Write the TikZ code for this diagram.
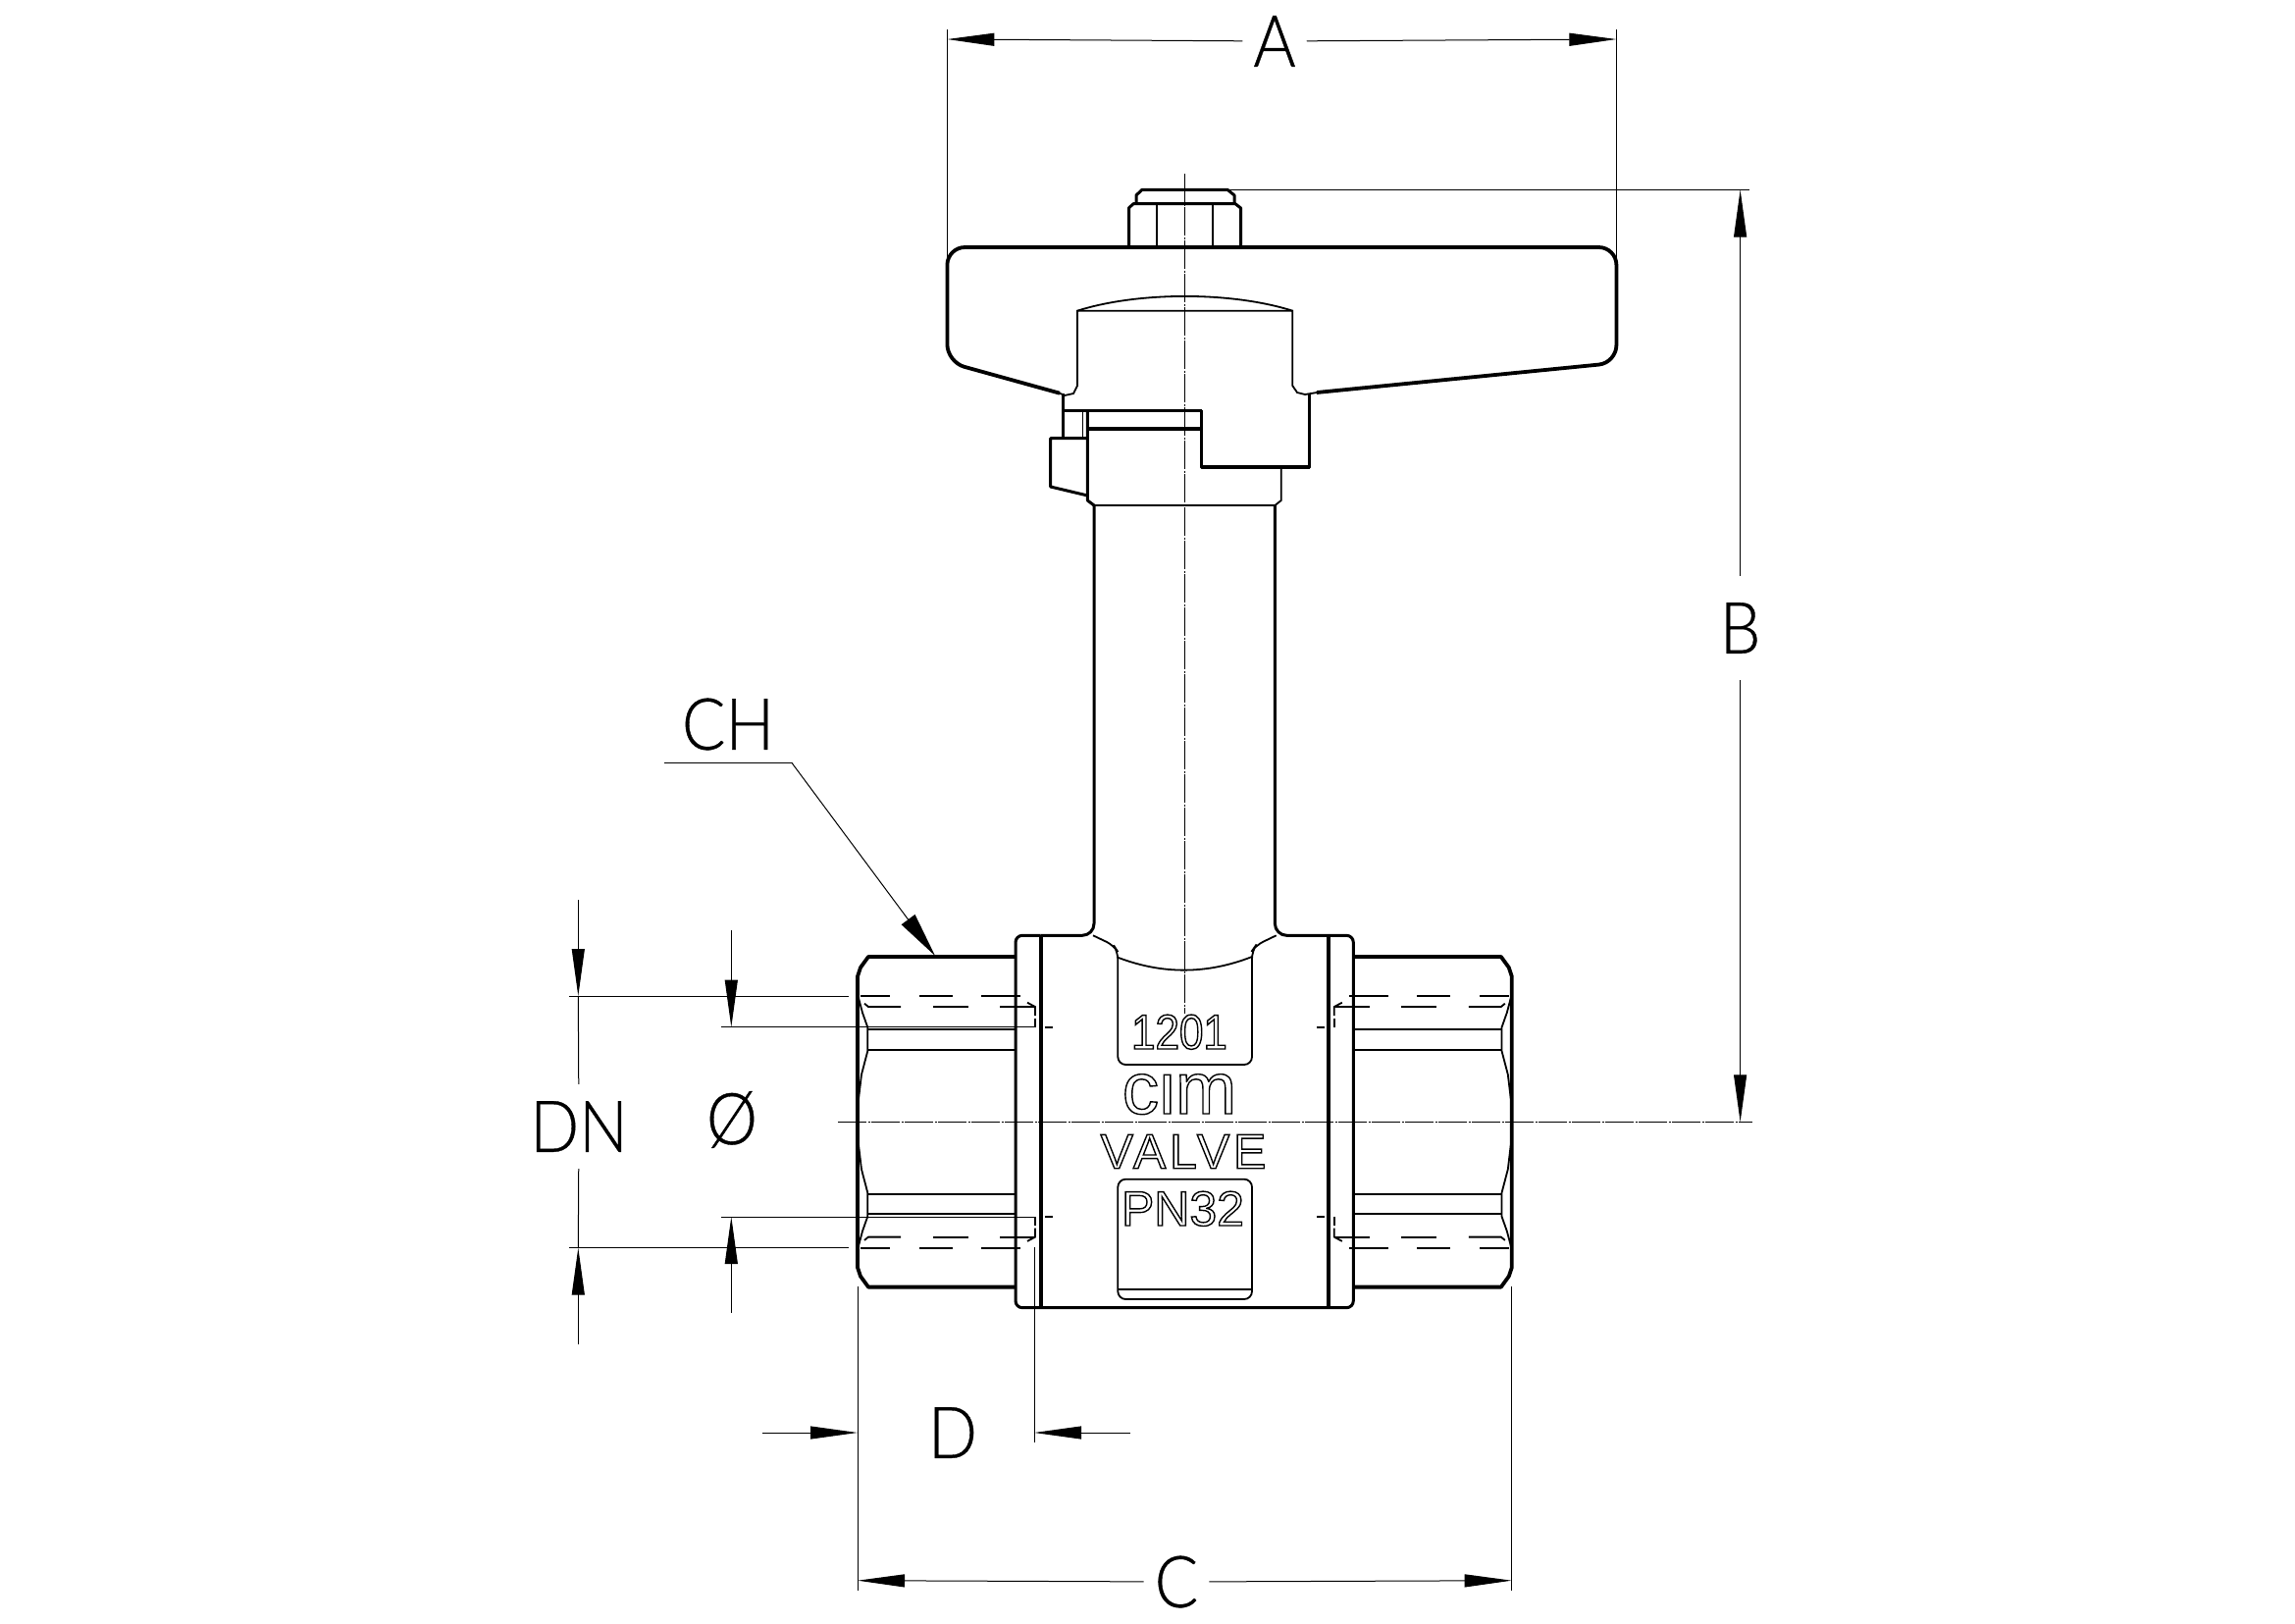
\documentclass[tikz,border=0pt]{standalone}
\usepackage{fontspec}
\setmainfont{Liberation Sans}
\newfontfamily\dimfont[FakeStretch=0.9, FakeBold=0.5]{Lato Light}
\usetikzlibrary{arrows.meta}

\newcommand{\outlined}[1]{\special{pdf:code q 1 Tr 1.4 w}#1\special{pdf:code Q}}

\newcommand{\pipequarter}{
    \draw[thick_line] (1035,975) -- (885,975) -- (877,986) -- (874,995) -- (874,1143.3) ;
    \draw[fine_line] (885,1049.3) -- (1035,1049.3) ;
    \draw[fine_line] (885,1070) -- (1035,1070) ;
    \draw[fine_line] (875,1017) -- (879,1032) -- (884.3,1047) -- (884.3,1071) -- (878,1095) -- (875,1120) ;
    \draw[fine_line] (877,1015) -- (907,1015) ;
    \draw[fine_line] (937,1015) -- (971,1015) ;
    \draw[fine_line] (1000,1015) -- (1040,1015) ;
    \draw[fine_line] (881,1022.7) -- (885,1026) -- (918,1026) ;
    \draw[fine_line] (951,1026) -- (987,1026) ;
    \draw[fine_line] (1019,1026) -- (1054,1026) ;
    \draw[fine_line] (1047,1021.7) -- (1055,1026) -- (1055,1035) ;
    \draw[fine_line] (1055,1038) -- (1055,1046.7) ;
    \draw[fine_line] (1065,1046.7) -- (1073,1046.7) ;
}

\begin{document}
\begin{tikzpicture}
    [
        x=1pt, y=-1pt,
        thick_line/.style={line width=3.8pt, color=black, line join=round},
        body_line/.style={line width=3pt, color=black, line join=round},
        fine_line/.style={line width=1.8pt, color=black},
        dim_line/.style={line width=1pt, color=black},
        axis_line/.style={line width=1pt, color=black, dash pattern=on 29pt off 1.5pt on 2pt off 1.5pt},
        dim_arrow/.style={dim_line, -{Triangle[length=48pt, width=13pt]}},
        dim_text/.style={font=\dimfont\fontsize{73}{73}\selectfont, inner xsep=11pt, inner ysep=5pt},
        stamp_text/.style={font=\fontsize{50}{50}\selectfont, anchor=base, inner sep=0pt},
        flip_x/.style={shift={(1207.4,0)}, xscale=-1, shift={(-1207.4,0)}},
        flip_y/.style={shift={(0,1143.3)}, yscale=-1, shift={(0,-1143.3)}},
    ]
        \useasboundingbox (0,0) rectangle (2339,1654) ;

        \draw[thick_line, rounded corners=18pt] (1080,400.7) -- (965.4,369) -- (965.4,252) -- (1647.4,252) -- (1647.4,369.8) -- (1342,400) ;
        \draw[fine_line] (1080,400.7) -- (1085,403) -- (1094,401) -- (1098,393) -- (1098,316.7) -- (1317.3,316.7) -- (1317.3,393) -- (1322,400) -- (1330,402) -- (1342,400) ;
        \draw[fine_line] (1098,316.7) .. controls (1160,297) and (1255,297) .. (1317.3,316.7) ;

        \draw[body_line] (1150.5,252) -- (1150.5,212) -- (1155,207.7) -- (1259,207.7) -- (1264.5,212) -- (1264.5,252) ;
        \draw[body_line] (1158,207.7) -- (1158,199) -- (1164,193.3) -- (1251,193.3) -- (1258,199) -- (1258,207.7) ;
        \draw[fine_line] (1178.7,208) -- (1178.7,252) ;
        \draw[fine_line] (1236,208) -- (1236,252) ;

        \draw[body_line] (1083,401) -- (1083,447) ;
        \draw[body_line] (1083,418.3) -- (1224.7,418.3) ;
        \draw[fine_line] (1103.5,418.3) -- (1103.5,447) ;
        \draw[thick_line] (1108.4,437.3) -- (1224.7,437.3) ;
        \draw[body_line] (1224.7,418.3) -- (1224.7,476) -- (1334.7,476) -- (1334.7,401) ;
        \draw[thick_line] (1224.7,476) -- (1334.7,476) ;
        \draw[body_line] (1108.4,446.7) -- (1070.6,446.7) -- (1070.6,496) -- (1108.4,505) ;
        \draw[body_line] (1108.4,418.3) -- (1108.4,510) -- (1115,515) ;
        \draw[fine_line] (1115,515) -- (1299.4,515) -- (1305.7,510) -- (1305.7,476) ;

        \draw[body_line, rounded corners=12pt] (1115,515) -- (1115,953.3) -- (1060.7,953.3) ;
        \draw[body_line, rounded corners=12pt] (1299.4,515) -- (1299.4,953.3) -- (1354,953.3) ;
        \draw[body_line, rounded corners=7pt] (1060.7,953.3) -- (1035,953.3) -- (1035,1332.7) -- (1379.3,1332.7) -- (1379.3,953.3) -- (1354,953.3) ;
        \draw[thick_line] (1060.7,953.3) -- (1060.7,1332.7) ;
        \draw[thick_line] (1354,953.3) -- (1354,1332.7) ;

        \begin{scope} \pipequarter \end{scope}
        \begin{scope}[flip_x] \pipequarter \end{scope}
        \begin{scope}[flip_y] \pipequarter \end{scope}
        \begin{scope}[flip_x, flip_y] \pipequarter \end{scope}

        \draw[fine_line, rounded corners=8pt] (1114,953.3) -- (1135,963.3) -- (1139.3,970) -- (1139.3,1085) -- (1276,1085) -- (1276,969) -- (1280,963.3) -- (1300.7,953.3) ;
        \draw[fine_line] (1140,976) .. controls (1185,993) and (1230,993) .. (1276,975) ;
        \draw[fine_line, rounded corners=8pt] (1139.3,1262) -- (1139.3,1201.7) -- (1276,1201.7) -- (1276,1324) -- (1139.3,1324) -- cycle ;
        \draw[fine_line] (1139.3,1314) -- (1276,1314) ;

        \node[stamp_text, font=\addfontfeature{FakeStretch=0.88}\fontsize{50}{50}\selectfont] (text_code) at (1202,1069) {\outlined{1201}} ;
        \begin{scope}
            \clip (1130,1094.5) rectangle (1280,1142) ;
            \node[stamp_text, font=\fontsize{75}{75}\selectfont] (text_brand) at (1202,1135) {\outlined{cim}} ;
        \end{scope}
        \node[stamp_text, font=\addfontfeature{LetterSpace=7.5}\fontsize{50}{50}\selectfont] (text_valve) at (1206,1190.7) {\outlined{VALVE}} ;
        \node[stamp_text] (text_press) at (1205.5,1249) {\outlined{PN32}} ;

        \draw[axis_line] (1207.5,177) -- (1207.5,1033) ;
        \draw[axis_line] (854,1143.3) -- (1786,1143.3) ;

        \draw[dim_line] (965.4,30) -- (965.4,268) ;
        \draw[dim_line] (1647.4,30) -- (1647.4,268) ;
        \draw[dim_line] (1251,193.5) -- (1783,193.5) ;
        \draw[dim_line] (580,1015) -- (865,1015) ;
        \draw[dim_line] (580,1271.7) -- (865,1271.7) ;
        \draw[dim_line] (735,1046.7) -- (1055,1046.7) ;
        \draw[dim_line] (735,1240) -- (1055,1240) ;
        \draw[dim_line] (874,1311) -- (874,1621) ;
        \draw[dim_line] (1540.7,1311) -- (1540.7,1621) ;
        \draw[dim_line] (1054,1271) -- (1054,1470) ;

        \node[dim_text] (dim_a) at (1299,42) {A} ;
        \draw[dim_arrow] (dim_a) -- (965.4,40) ;
        \draw[dim_arrow] (dim_a) -- (1647.4,40) ;

        \node[dim_text, inner ysep=27pt] (dim_b) at (1773.6,640) {B} ;
        \draw[dim_arrow] (dim_b) -- (1773.6,193.5) ;
        \draw[dim_arrow] (dim_b) -- (1773.6,1143.3) ;

        \node[dim_text] (dim_c) at (1199,1612) {C} ;
        \draw[dim_arrow] (dim_c) -- (874,1610.7) ;
        \draw[dim_arrow] (dim_c) -- (1540.7,1610.7) ;

        \node[dim_text] (dim_d) at (971,1460) {D} ;
        \draw[dim_arrow] (777,1460) -- (874,1460) ;
        \draw[dim_arrow] (1151.6,1460) -- (1054,1460) ;

        \node[dim_text, inner ysep=17pt] (dim_dn) at (590,1148) {DN} ;
        \draw[dim_arrow] (589.3,917) -- (589.3,1015) ;
        \draw[dim_arrow] (589.3,1370) -- (589.3,1271.7) ;
        \draw[dim_line] (589.3,1015) -- (dim_dn) ;
        \draw[dim_line] (589.3,1271.7) -- (dim_dn) ;

        \node[dim_text] (dim_dia) at (746,1141) {Ø} ;
        \draw[dim_arrow] (745.3,948) -- (745.3,1046.7) ;
        \draw[dim_arrow] (745.3,1338) -- (745.3,1240) ;

        \node[dim_text] (dim_ch) at (742,738) {CH} ;
        \draw[dim_line] (677,777) -- (806.7,777) ;
        \draw[dim_line, -{Triangle[length=46pt, width=17pt]}] (806.7,777) -- (953,974) ;
    \end{tikzpicture}
\end{document}
